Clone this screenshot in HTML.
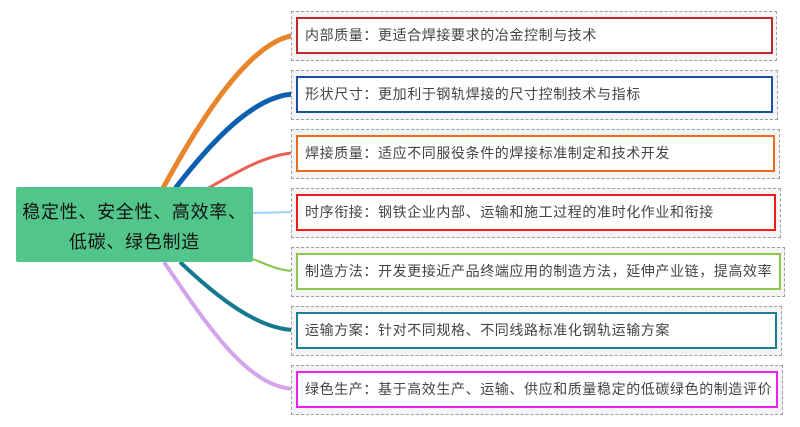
<!DOCTYPE html>
<html><head><meta charset="utf-8"><style>
body{margin:0;width:800px;height:427px;background:#fff;position:relative;overflow:hidden;font-family:"Liberation Sans","Noto Sans CJK SC",sans-serif}
.o{position:absolute;left:291px;border:1px dashed #9aa0aa;background:#f4f4f6}
.i{position:absolute;left:296px;height:33px;border:2px solid;background:#fff;font-size:14px;letter-spacing:0.6px;color:#444;line-height:33px;padding-left:7px;box-sizing:content-box;white-space:nowrap}
.c{position:absolute;left:16px;top:187px;width:237px;height:75px;background:#52c58a;border-radius:2px;font-size:18px;letter-spacing:0.7px;color:#111;text-align:center;line-height:30px;padding-top:10px;box-sizing:border-box}
</style></head><body>
<svg width="800" height="427" style="position:absolute;left:0;top:0">
<path d="M162 190 C200 120 250 40 296 35" stroke="#e8842c" stroke-width="5" fill="none"/>
<path d="M174 190 C220 130 260 94 296 94" stroke="#0e5fb0" stroke-width="5" fill="none"/>
<path d="M205 190 C240 170 270 153 296 153" stroke="#ea6055" stroke-width="3" fill="none"/>
<path d="M253 213 L296 212" stroke="#9fd0f5" stroke-width="2" fill="none"/>
<path d="M253 259 C270 266 280 271 296 271" stroke="#84c441" stroke-width="2" fill="none"/>
<path d="M180 262 C220 300 260 330 296 330" stroke="#14788e" stroke-width="4" fill="none"/>
<path d="M164 262 C210 330 250 389 296 389" stroke="#d3a4ec" stroke-width="4" fill="none"/>
</svg>
<div class="c">稳定性、安全性、高效率、<br>低碳、绿色制造</div>
<div class="o" style="top:11px;width:484px;height:48px"></div>
<div class="i" style="top:17px;width:466px;border-color:#c0272d">内部质量：更适合焊接要求的冶金控制与技术</div>
<div class="o" style="top:70px;width:485px;height:48px"></div>
<div class="i" style="top:76px;width:466px;border-color:#1b4ea3">形状尺寸：更加利于钢轨焊接的尺寸控制技术与指标</div>
<div class="o" style="top:129px;width:487px;height:48px"></div>
<div class="i" style="top:135px;width:468px;border-color:#ec6a1c">焊接质量：适应不同服役条件的焊接标准制定和技术开发</div>
<div class="o" style="top:188px;width:488px;height:48px"></div>
<div class="i" style="top:194px;width:469px;border-color:#f41a1a">时序衔接：钢铁企业内部、运输和施工过程的准时化作业和衔接</div>
<div class="o" style="top:247px;width:492px;height:48px"></div>
<div class="i" style="top:253px;width:474px;border-color:#8cc84b">制造方法：开发更接近产品终端应用的制造方法，延伸产业链，提高效率</div>
<div class="o" style="top:306px;width:489px;height:48px"></div>
<div class="i" style="top:312px;width:470px;border-color:#1a8098">运输方案：针对不同规格、不同线路标准化钢轨运输方案</div>
<div class="o" style="top:365px;width:490px;height:48px"></div>
<div class="i" style="top:371px;width:471px;border-color:#f01ef0">绿色生产：基于高效生产、运输、供应和质量稳定的低碳绿色的制造评价</div>
</body></html>
